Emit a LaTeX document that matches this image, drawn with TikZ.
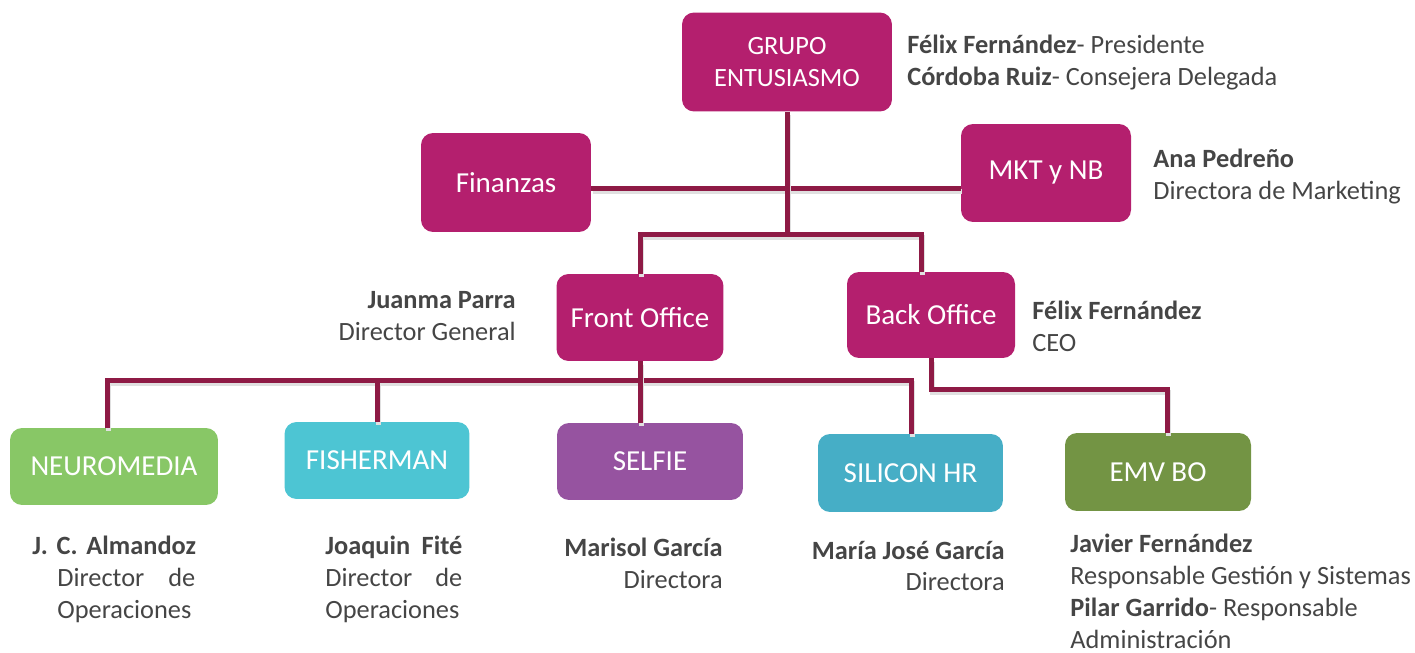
\documentclass[tikz,border=0pt]{standalone}
\usepackage{fontspec}
\setmainfont{Carlito}
\definecolor{entmag}{HTML}{B41F6E}
\definecolor{linkred}{HTML}{8E1A45}
\definecolor{neurogreen}{HTML}{88C766}
\definecolor{fishcyan}{HTML}{4DC5D3}
\definecolor{selfiepurple}{HTML}{9653A0}
\definecolor{siliconblue}{HTML}{46AEC6}
\definecolor{emvgreen}{HTML}{739444}
\definecolor{txtgray}{HTML}{454545}
\begin{document}
\begin{tikzpicture}[x=0.02cm,y=-0.02cm,
    unit/.style={rounded corners=0.24cm, text=white, inner sep=0pt, align=center,
      font=\fontsize{16.5}{18.4}\selectfont},
    link/.style={draw=linkred, line width=0.1cm,
      preaction={draw=black!12, line width=0.1cm, transform canvas={shift={(0.03cm,-0.07cm)}}}},
    note/.style={text=txtgray, inner sep=0pt, font=\fontsize{15}{18.2}\selectfont}]
    \useasboundingbox (0,0) rectangle (1415,652);

    \node[unit, fill=entmag, minimum width=4.2cm, minimum height=1.98cm,
      font=\fontsize{15}{18.4}\selectfont] (grupo) at (787,62) {GRUPO\\ENTUSIASMO};
    \node[unit, fill=entmag, minimum width=3.4cm, minimum height=1.98cm] (finanzas) at (506,182.5) {Finanzas};
    \node[unit, fill=entmag, minimum width=3.4cm, minimum height=1.96cm] (mkt) at (1046,173) {MKT y NB};
    \node[unit, fill=entmag, minimum width=3.34cm, minimum height=1.74cm] (front) at (640,317.5) {Front Office};
    \node[unit, fill=entmag, minimum width=3.36cm, minimum height=1.72cm] (back) at (931,315) {Back Office};

    \node[unit, fill=neurogreen, minimum width=4.16cm, minimum height=1.54cm] (neuro) at (114,466.5) {NEUROMEDIA};
    \node[unit, fill=fishcyan, minimum width=3.7cm, minimum height=1.54cm] (fisher) at (377,460.5) {FISHERMAN};
    \node[unit, fill=selfiepurple, minimum width=3.72cm, minimum height=1.54cm] (selfie) at (650,461.5) {SELFIE};
    \node[unit, fill=siliconblue, minimum width=3.7cm, minimum height=1.56cm] (silicon) at (910.5,473) {SILICON HR};
    \node[unit, fill=emvgreen, minimum width=3.72cm, minimum height=1.56cm] (emv) at (1158,472) {EMV BO};

    \coordinate (mid) at (786,188);
    \coordinate (bk) at (921,234);
    \coordinate (fol) at (107,380);
    \coordinate (for) at (911,380);
    \coordinate (bo) at (1167,389);

    \draw[link] (finanzas.east |- mid) -- (mkt.west |- mid);
    \draw[link] (grupo.south) -- (grupo.south |- bk);
    \draw[link] (front.north) |- (bk) -- (bk |- back.north);
    \draw[link] (neuro.north -| fol) -- (fol) -- (for) -- (silicon.north -| for);
    \draw[link] (fisher.north) -- (fisher.north |- fol);
    \draw[link] (front.south) -- (front.south |- selfie.north);
    \draw[link] (back.south) |- (bo) -- (bo |- emv.north);

    \node[note, align=left, anchor=west] (presi) at (907,63)
      {\textbf{Félix Fernández}- Presidente\\\textbf{Córdoba Ruiz}- Consejera Delegada};
    \node[note, align=left, anchor=west] (ana) at (1153,176.5)
      {\textbf{Ana Pedreño}\\Directora de Marketing};
    \node[note, align=right, anchor=east] (juanma) at (516,316.5)
      {\textbf{Juanma Parra}\\Director General};
    \node[note, align=left, anchor=west] (ceo) at (1032,326)
      {\textbf{Félix Fernández}\\CEO};
    \node[note, align=left, anchor=west, text width=2.76cm] (almandoz) at (57,579)
      {\hspace*{-0.5cm}\makebox[3.26cm][s]{\textbf{J. C. Almandoz}}\\Director\hfill de\\Operaciones};
    \node[note, align=left, anchor=west, text width=2.74cm] (fite) at (325,579)
      {\textbf{Joaquin}\hfill\textbf{Fité}\\Director\hfill de\\Operaciones};
    \node[note, align=right, anchor=east] (marisol) at (723,563)
      {\textbf{Marisol García}\\Directora};
    \node[note, align=right, anchor=east] (mariajose) at (1005,566)
      {\textbf{María José García}\\Directora};
    \node[note, align=left, anchor=west] (javier) at (1070,591)
      {\textbf{Javier Fernández}\\Responsable Gestión y Sistemas\\\textbf{Pilar Garrido}- Responsable\\Administración};
  \end{tikzpicture}
\end{document}
